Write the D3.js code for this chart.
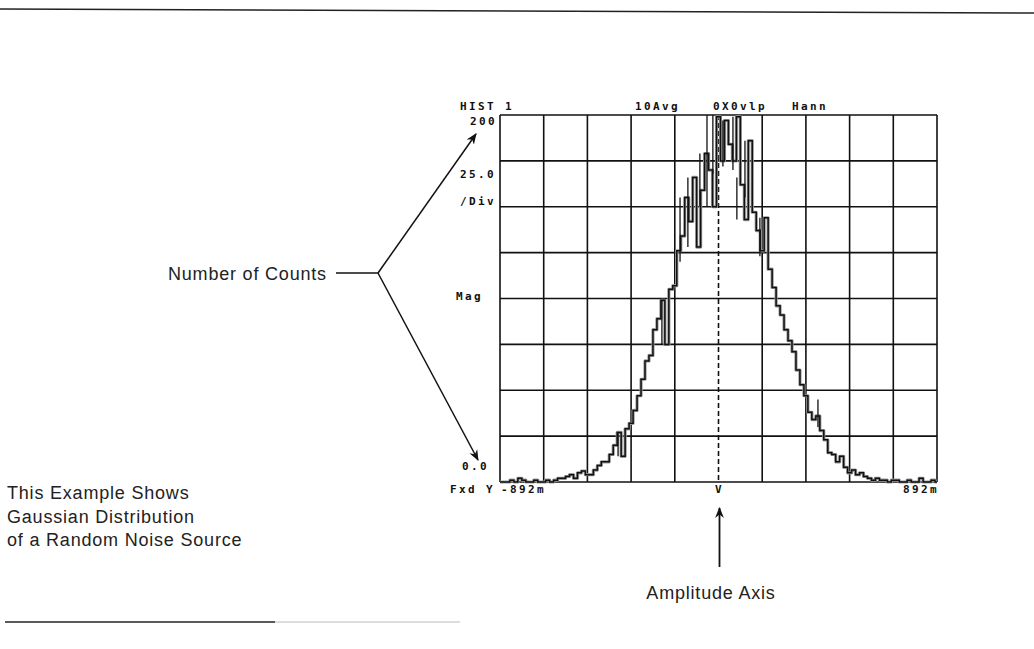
<!DOCTYPE html>
<html><head><meta charset="utf-8">
<script src="https://cdn.jsdelivr.net/npm/d3@7"></script>
<style>
html,body{margin:0;padding:0;background:#fff;}
svg{display:block;}
.mono{font-family:"DejaVu Sans Mono",monospace;font-size:11px;font-weight:bold;fill:#111;letter-spacing:2.4px;}
.sans{font-family:"Liberation Sans",Arial,sans-serif;font-size:18px;fill:#222;letter-spacing:0.8px;}
</style>
</head><body>
<script>
// ---- data ----
const xDomain = [-892, 892];          // mV
const yDomain = [0, 200];             // counts
const xDivisions = 10;
const yStep = 25;
const counts = [
  0,0,1,0,2,1,0,0,1,0,0,1,0,1,2,
  2,3,4,2,5,6,4,
  4,6.5,9,11,11,15,20,27,14,29,32,39,47,56,66,69,83,89,99,75,105,107,126,134,
  155,142,166,128,159,179,170,150,199,175,197,184,175,199,162,143,186,147,137,126,
  144,116,106,96,91,83,77,71,61,53,47,38,34,36,28,23,16,15,11,14,8,5,6.5,4,5,3,2,
  1,2,1,1,0,1,1,0,0,1,0,0,2,0,0,1,0
];
// narrow noise spikes: [amplitude mV, low count, high count]
const spikes = [
  [-410, 14, 27], [-231, 75, 99], [-157, 120, 155], [-125, 128, 166],
  [-76, 150, 179], [-47, 150, 200], [-23, 168, 200], [18, 172, 197],
  [59, 170, 199], [75, 143, 166], [108, 155, 186], [169, 123, 144], [406, 30, 45]
];
const topLabels = ["HIST 1", "10Avg", "0X0vlp", "Hann"];
const yLabels = ["200", "25.0", "/Div", "Mag", "0.0"];
const xLabels = ["Fxd Y", "-892m", "V", "892m"];
const annotations = ["Number of Counts", "Amplitude Axis"];
const noteLines = ["This Example Shows", "Gaussian Distribution", "of a Random Noise Source"];

// ---- layout ----
const W = 1034, H = 649;
const L = 500, R = 937, T = 115, B = 482;
const svg = d3.select("body").append("svg").attr("width", W).attr("height", H);

const x = d3.scaleLinear().domain(xDomain).range([L, R]);
const y = d3.scaleLinear().domain(yDomain).range([B, T]);

// page rules
svg.append("line").attr("x1",0).attr("y1",9).attr("x2",W).attr("y2",13)
  .attr("stroke","#222").attr("stroke-width",1.4);
svg.append("line").attr("x1",5).attr("y1",622).attr("x2",275).attr("y2",622)
  .attr("stroke","#222").attr("stroke-width",1.6);
svg.append("line").attr("x1",275).attr("y1",622).attr("x2",460).attr("y2",622)
  .attr("stroke","#bbb").attr("stroke-width",1.2);

// grid
const xTicks = d3.range(xDivisions + 1).map(i => xDomain[0] + i * (xDomain[1] - xDomain[0]) / xDivisions);
const yTicks = d3.range(yDomain[0], yDomain[1] + 1, yStep);
const g = svg.append("g");
g.selectAll("line.v").data(xTicks).join("line")
  .attr("x1", d => x(d)).attr("x2", d => x(d)).attr("y1", T).attr("y2", B)
  .attr("stroke", "#111").attr("stroke-width", 1.6)
  .attr("stroke-dasharray", (d, i) => i === xDivisions / 2 ? "5,3" : null);
g.selectAll("line.h").data(yTicks).join("line")
  .attr("y1", d => y(d)).attr("y2", d => y(d)).attr("x1", L).attr("x2", R)
  .attr("stroke", "#111").attr("stroke-width", 1.6);

// trace
const bw = (xDomain[1] - xDomain[0]) / counts.length;
const pts = counts.map((c, i) => [xDomain[0] + (i + 0.5) * bw, c]);
pts.unshift([xDomain[0], counts[0]]);
pts.push([xDomain[1], counts[counts.length - 1]]);
const line = d3.line().x(d => x(d[0])).y(d => y(d[1])).curve(d3.curveStepAfter);
svg.append("path").datum(pts)
  .attr("fill", "none").attr("stroke", "#999").attr("stroke-width", 3.2)
  .attr("stroke-linejoin","round").attr("d", line);
svg.append("path").datum(pts)
  .attr("fill", "none").attr("stroke", "#111").attr("stroke-width", 1.5)
  .attr("d", line);
svg.selectAll("line.spike").data(spikes).join("line")
  .attr("x1", d => x(d[0])).attr("x2", d => x(d[0]))
  .attr("y1", d => y(d[1])).attr("y2", d => y(d[2]))
  .attr("stroke", "#111").attr("stroke-width", 1.3);

// instrument labels
const mono = (t, px, py, anchor) => svg.append("text").attr("class","mono")
  .attr("x",px).attr("y",py).attr("text-anchor",anchor||"start").text(t);
mono(topLabels[0], 460, 110);
mono(topLabels[1], 635, 110);
mono(topLabels[2], 713, 110);
mono(topLabels[3], 792, 110);
mono(yLabels[0], 497, 125, "end");
mono(yLabels[1], 460, 178);
mono(yLabels[2], 460, 205);
mono(yLabels[3], 456, 300);
mono(yLabels[4], 489, 470, "end");
mono(xLabels[0], 450, 493);
mono(xLabels[1], 501, 493);
mono(xLabels[2], x(0) + 1, 493, "middle");
mono(xLabels[3], R + 2, 493, "end");

// annotations
svg.append("defs").append("marker").attr("id","ah").attr("viewBox","0 0 10 10")
  .attr("refX",9).attr("refY",5).attr("markerWidth",11).attr("markerHeight",11)
  .attr("orient","auto-start-reverse").attr("markerUnits","userSpaceOnUse")
  .append("path").attr("d","M0,1 L10,5 L0,9 L3,5 Z").attr("fill","#111");

svg.append("text").attr("class","sans").attr("x",168).attr("y",280).text(annotations[0]);
svg.append("line").attr("x1",336).attr("y1",273).attr("x2",378).attr("y2",273)
  .attr("stroke","#111").attr("stroke-width",1.6);
svg.append("line").attr("x1",378).attr("y1",273).attr("x2",476).attr("y2",134)
  .attr("stroke","#111").attr("stroke-width",1.5).attr("marker-end","url(#ah)");
svg.append("line").attr("x1",378).attr("y1",273).attr("x2",478).attr("y2",460)
  .attr("stroke","#111").attr("stroke-width",1.5).attr("marker-end","url(#ah)");

svg.append("line").attr("x1",x(0)+1).attr("y1",567).attr("x2",x(0)+1).attr("y2",508)
  .attr("stroke","#111").attr("stroke-width",1.8).attr("marker-end","url(#ah)");
svg.append("text").attr("class","sans").attr("x",711).attr("y",599)
  .attr("text-anchor","middle").text(annotations[1]);

svg.selectAll("text.note").data(noteLines).join("text").attr("class","sans note")
  .attr("x",7).attr("y",(d,i)=>499+i*23.5).text(d=>d);
</script>
</body></html>
